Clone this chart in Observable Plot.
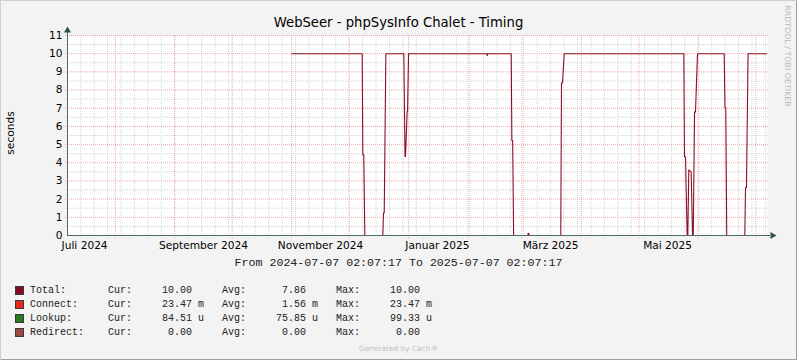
<!DOCTYPE html>
<html>
<head>
<meta charset="utf-8">
<script src="https://cdn.jsdelivr.net/npm/d3@7"></script>
<script src="https://cdn.jsdelivr.net/npm/@observablehq/plot@0.6"></script>
<style>
  html, body { margin: 0; padding: 0; background: #ffffff; }
  #wrap { position: relative; width: 797px; height: 360px; background: #F3F3F3; overflow: hidden;
          box-shadow: inset 1px 1px 0 #CFCFCF, inset -1px -1px 0 #9E9E9E; }
  #chart { position: absolute; left: 0; top: 0; }
  .abs { position: absolute; white-space: pre; }
  #title { left: 0; width: 797px; top: 15px; text-align: center; font: 13.2px/16px "DejaVu Sans"; color: #000; }
  #ylab { left: 10px; top: 133px; font: 10.6px/12px "DejaVu Sans"; color: #000; transform: translate(-50%, -50%) rotate(-90deg); }
  #wm { left: 787px; top: 56px; font: 7.9px/9px "DejaVu Sans"; color: #b8b8b8; transform: translate(-50%, -50%) rotate(90deg); }
  #range { left: 0; width: 797px; top: 256px; text-align: center; font: 11.63px/14px "Liberation Mono"; color: #222; }
  .row { left: 30px; font: 10px/14px "Liberation Mono"; color: #222; }
  .box { position: absolute; left: 15px; width: 7px; height: 7px; border: 1px solid #3a3a3a; }
  #gen { left: 0; width: 797px; top: 344px; text-align: center; font: 7.4px/10px "DejaVu Sans"; color: #c0c0c0; }
</style>
</head>
<body>
<div id="wrap">
  <div id="chart"></div>
  <div id="title" class="abs"></div>
  <div id="ylab" class="abs"></div>
  <div id="wm" class="abs"></div>
  <div id="range" class="abs"></div>
  <div id="legend"></div>
  <div id="gen" class="abs"></div>
</div>
<script>
// ---- texts ----
const titleText = "WebSeer - phpSysInfo Chalet - Timing";
const yAxisLabel = "seconds";
const watermark = "RRDTOOL / TOBI OETIKER";
const rangeText = "From 2024-07-07 02:07:17 To 2025-07-07 02:07:17";
const generatedText = "Generated by Cacti®";

// ---- time window ----
const startTime = "2024-07-07T02:07:17Z";
const endTime = "2025-07-07T02:07:17Z";

// ---- x tick labels (centered mid-month) ----
const xLabelDates = ["2024-07-16", "2024-09-16", "2024-11-16", "2025-01-16", "2025-03-16", "2025-05-16"];
const xLabelTexts = ["Juli 2024", "September 2024", "November 2024", "Januar 2025", "März 2025", "Mai 2025"];

// ---- y ticks ----
const yTicks = [0, 1, 2, 3, 4, 5, 6, 7, 8, 9, 10, 11];

// ---- Total series (seconds) ----
const totalDates = [
  "2024-11-01T00:00", "2024-12-07T18:00", "2024-12-08T02:00", "2024-12-08T14:00", "2024-12-09T03:00",
  "2024-12-18T12:00", "2024-12-18T21:00", "2024-12-19T06:00", "2024-12-20T02:00",
  "2024-12-29T11:00", "2024-12-30T02:00", "2024-12-30T08:00", "2024-12-31T05:00", "2024-12-31T10:00", "2024-12-31T22:00",
  "2025-02-10T14:00", "2025-02-10T23:00", "2025-02-11T06:00",
  "2025-02-23T11:00", "2025-02-23T19:00", "2025-02-24T05:00", "2025-02-24T17:00",
  "2025-03-04T02:00", "2025-03-04T07:00", "2025-03-04T15:00", "2025-03-04T20:00",
  "2025-03-21T07:00", "2025-03-21T16:00", "2025-03-22T05:00", "2025-03-23T02:00",
  "2025-05-24T11:00", "2025-05-24T19:00", "2025-05-25T08:00", "2025-05-26T05:00", "2025-05-26T13:00",
  "2025-05-27T01:00", "2025-05-28T07:00", "2025-05-29T00:00", "2025-05-29T09:00",
  "2025-05-30T01:00", "2025-05-30T13:00", "2025-05-31T14:00",
  "2025-06-14T12:00", "2025-06-14T22:00", "2025-06-15T08:00", "2025-06-15T20:00",
  "2025-06-25T06:00", "2025-06-25T15:00", "2025-06-26T03:00", "2025-06-26T23:00", "2025-07-06T12:00"
];
const totalValues = [
  10, 10, 4.44, 4.44, 0,
  0, 1.25, 1.25, 10,
  10, 4.35, 4.35, 6.86, 6.86, 10,
  10, 9.9, 10,
  10, 5.22, 5.22, 0,
  0, 0.12, 0.12, 0,
  0, 8.4, 8.4, 10,
  10, 4.33, 4.33, 0, 0,
  3.6, 3.5, 0, 0,
  6.8, 6.8, 10,
  10, 7.02, 7.02, 0,
  0, 2.64, 2.64, 10, 10
];

// ---- legend ----
const legendNames = ["Total:", "Connect:", "Lookup:", "Redirect:"];
const legendColors = ["#850C1F", "#E4281B", "#2C7A1E", "#984A3C"];
const legendCur = ["10.00", "23.47", "84.51", "0.00"];
const legendCurUnit = [" ", "m", "u", " "];
const legendAvg = ["7.86", "1.56", "75.85", "0.00"];
const legendAvgUnit = [" ", "m", "u", " "];
const legendMax = ["10.00", "23.47", "99.33", "0.00"];
const legendMaxUnit = [" ", "m", "u", " "];

// ---- build ----
const parse = s => new Date(s.length === 10 ? s + "T00:00:00Z" : (s.endsWith("Z") ? s : s + ":00Z"));
const t0 = parse(startTime), t1 = parse(endTime);
const total = totalDates.map((d, i) => ({date: parse(d), value: totalValues[i]}));
const labelDates = xLabelDates.map(parse);

const weeks = d3.utcSunday.range(t0, t1);
const months = d3.utcMonth.range(t0, t1);
const minorY = d3.range(0.5, 11, 1);

const axisCol = "#4f6a60";
const arrowCol = "#2c5346";

const chart = Plot.plot({
  width: 797,
  height: 260,
  marginLeft: 67,
  marginRight: 30,
  marginTop: 35,
  marginBottom: 25,
  style: {background: "transparent", fontFamily: "DejaVu Sans", fontSize: "10.6px", color: "#000", overflow: "visible"},
  x: {type: "utc", domain: [t0, t1]},
  y: {domain: [0, 11]},
  marks: [
    Plot.frame({fill: "#ffffff", stroke: "none"}),
    Plot.ruleY(minorY, {stroke: "#d4d4d4", strokeDasharray: "1,1", insetLeft: -2, insetRight: -1}),
    Plot.ruleX(weeks, {stroke: "#d4d4d4", strokeDasharray: "1,1", insetBottom: -2}),
    Plot.ruleY(yTicks.filter(v => v > 0), {stroke: "#efa6a6", strokeDasharray: "1,1", insetLeft: -2, insetRight: -1}),
    Plot.ruleX(months, {stroke: "#efa6a6", strokeDasharray: "1,1", insetBottom: -3}),
    Plot.line(total, {x: "date", y: "value", stroke: "#8a1026", strokeWidth: 1.1, curve: "linear"}),
    Plot.ruleY([0], {stroke: axisCol, strokeWidth: 1, insetRight: -3}),
    Plot.ruleX([t0], {stroke: axisCol, strokeWidth: 1, insetTop: -4}),
    Plot.dot([t0], {x: d => d, y: () => 11, dy: -5, symbol: "triangle", r: 2.6, fill: arrowCol, stroke: "none"}),
    Plot.dot([t1], {x: d => d, y: () => 0, dx: 5, symbol: "triangle", rotate: 90, r: 2.6, fill: arrowCol, stroke: "none"}),
    Plot.axisY(yTicks, {tickSize: 0, tickPadding: 5, label: null, fill: "#000"}),
    Plot.axisX(labelDates, {tickSize: 0, tickPadding: 6, label: null, fill: "#000",
      tickFormat: d => xLabelTexts[labelDates.findIndex(e => +e === +d)]})
  ]
});
document.getElementById("chart").appendChild(chart);

document.getElementById("title").textContent = titleText;
document.getElementById("ylab").textContent = yAxisLabel;
document.getElementById("wm").textContent = watermark;
document.getElementById("range").textContent = rangeText;
document.getElementById("gen").textContent = generatedText;

const legend = document.getElementById("legend");
legendNames.forEach((name, i) => {
  const top = 284 + i * 14;
  const line = name.padEnd(13) + "Cur:" + legendCur[i].padStart(10) + " " + legendCurUnit[i] + "   " +
               "Avg:" + legendAvg[i].padStart(10) + " " + legendAvgUnit[i] + "   " +
               "Max:" + legendMax[i].padStart(10) + " " + legendMaxUnit[i];
  const row = document.createElement("div");
  row.className = "abs row";
  row.style.top = top + "px";
  row.textContent = line;
  legend.appendChild(row);
  const box = document.createElement("div");
  box.className = "box";
  box.style.top = (top + 2) + "px";
  box.style.background = legendColors[i];
  legend.appendChild(box);
});
</script>
</body>
</html>
